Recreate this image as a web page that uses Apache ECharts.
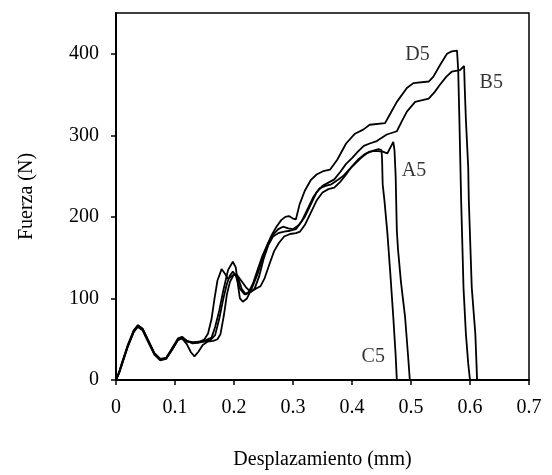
<!DOCTYPE html>
<html>
<head>
<meta charset="utf-8">
<title>Fuerza - Desplazamiento</title>
<script src="https://cdn.jsdelivr.net/npm/echarts@6/dist/echarts.min.js"></script>
<style>
  html, body { margin: 0; padding: 0; background: #fff; }
  #main { width: 552px; height: 475px; }
</style>
</head>
<body>
<div id="main"></div>
<script>
// curvas: [desplazamiento mm, fuerza N]
var serieA5 = [[0,0],[0.005,8],[0.01,19],[0.02,41],[0.03,59],[0.037,65],[0.045,61],[0.055,46],[0.065,31],[0.075,24],[0.085,26],[0.095,37],[0.105,49],[0.112,51],[0.12,44],[0.127,34],[0.133,29],[0.14,35],[0.147,43],[0.155,47],[0.165,48],[0.172,50],[0.177,56],[0.183,80],[0.188,105],[0.193,120],[0.2,130],[0.207,125],[0.213,112],[0.22,105],[0.228,108],[0.237,112],[0.245,115],[0.252,125],[0.26,142],[0.268,158],[0.276,168],[0.285,176],[0.295,179],[0.305,180],[0.312,182],[0.32,190],[0.33,205],[0.34,220],[0.35,230],[0.36,234],[0.37,236],[0.38,243],[0.39,252],[0.4,262],[0.41,270],[0.42,276],[0.43,280],[0.44,281],[0.452,280],[0.46,278],[0.465,285],[0.47,292],[0.472,282],[0.474,250],[0.476,183],[0.478,160],[0.483,120],[0.49,77],[0.495,30],[0.498,0]];
var serieB5 = [[0,0],[0.005,8],[0.01,19],[0.02,41],[0.03,60],[0.037,67],[0.045,63],[0.055,48],[0.065,33],[0.075,26],[0.085,26],[0.095,37],[0.105,49],[0.112,51],[0.12,47],[0.13,46],[0.14,47],[0.15,48],[0.162,52],[0.168,65],[0.175,85],[0.182,110],[0.19,135],[0.198,145],[0.203,138],[0.207,115],[0.21,100],[0.215,96],[0.222,100],[0.23,112],[0.24,130],[0.25,152],[0.258,168],[0.266,178],[0.275,185],[0.283,188],[0.292,186],[0.3,185],[0.31,190],[0.32,200],[0.33,215],[0.34,230],[0.35,238],[0.36,242],[0.37,246],[0.38,255],[0.39,265],[0.4,272],[0.41,280],[0.42,287],[0.43,290],[0.442,293],[0.459,301],[0.476,305],[0.485,318],[0.493,329],[0.507,341],[0.53,345],[0.54,353],[0.549,362],[0.56,372],[0.569,378],[0.583,380],[0.59,385],[0.591,360],[0.593,320],[0.597,260],[0.598,220],[0.603,113],[0.609,57],[0.611,20],[0.612,0]];
var serieC5 = [[0,0],[0.005,9],[0.01,20],[0.02,42],[0.03,59],[0.037,66],[0.045,62],[0.055,47],[0.065,32],[0.075,25],[0.085,27],[0.095,38],[0.105,50],[0.112,52],[0.12,48],[0.13,45],[0.14,46],[0.15,50],[0.156,57],[0.162,75],[0.167,100],[0.172,122],[0.179,136],[0.185,130],[0.19,124],[0.197,128],[0.204,130],[0.212,122],[0.22,114],[0.228,108],[0.235,112],[0.243,128],[0.25,148],[0.258,165],[0.266,176],[0.275,180],[0.285,182],[0.295,183],[0.305,185],[0.315,195],[0.325,210],[0.335,225],[0.345,235],[0.355,238],[0.365,240],[0.375,245],[0.385,250],[0.395,258],[0.405,265],[0.415,272],[0.425,278],[0.435,281],[0.445,283],[0.45,282],[0.451,270],[0.452,240],[0.455,220],[0.46,180],[0.465,130],[0.47,77],[0.474,30],[0.476,0]];
var serieD5 = [[0,0],[0.005,9],[0.01,21],[0.02,43],[0.03,61],[0.037,67],[0.045,63],[0.055,48],[0.065,33],[0.075,26],[0.085,27],[0.095,39],[0.105,51],[0.112,53],[0.12,48],[0.13,46],[0.14,46],[0.15,47],[0.16,49],[0.168,55],[0.175,75],[0.182,100],[0.188,118],[0.193,128],[0.198,133],[0.203,128],[0.21,112],[0.218,105],[0.225,108],[0.232,118],[0.24,135],[0.248,152],[0.256,165],[0.264,178],[0.272,188],[0.28,196],[0.287,200],[0.293,201],[0.3,198],[0.305,197],[0.311,215],[0.32,232],[0.33,245],[0.34,252],[0.351,256],[0.363,258],[0.375,270],[0.39,290],[0.405,302],[0.419,307],[0.43,313],[0.456,315],[0.466,328],[0.476,341],[0.493,358],[0.504,364],[0.53,366],[0.538,372],[0.549,386],[0.561,400],[0.569,403],[0.578,404],[0.58,380],[0.582,320],[0.585,220],[0.589,113],[0.593,57],[0.597,20],[0.6,0]];

// etiquetas de las probetas
var etiquetas = ['D5', 'B5', 'A5', 'C5'];
var etiquetaX = [0.511, 0.636, 0.505, 0.436];
var etiquetaY = [399, 364, 257, 28];

var ticksY = [0, 100, 200, 300, 400];

var fuente = 'Liberation Serif, Times New Roman, serif';

var myChart = echarts.init(document.getElementById('main'), null, {renderer: 'canvas'});

var puntosEtiqueta = [];
for (var i = 0; i < etiquetas.length; i++) {
  puntosEtiqueta.push({name: etiquetas[i], value: [etiquetaX[i], etiquetaY[i]]});
}

function curva (nombre, datos) {
  return {
    name: nombre,
    type: 'line',
    data: datos,
    showSymbol: false,
    symbol: 'none',
    lineStyle: { color: '#000', width: 1.8 },
    animation: false
  };
}

var option = {
  backgroundColor: '#fff',
  animation: false,
  grid: {
    left: 116,
    right: 23,
    top: 13,
    bottom: 95,
    show: true,
    borderColor: '#000',
    borderWidth: 1.5
  },
  xAxis: {
    type: 'value',
    min: 0,
    max: 0.7,
    interval: 0.1,
    name: 'Desplazamiento (mm)',
    nameLocation: 'middle',
    nameGap: 70,
    nameTextStyle: { color: '#000', fontFamily: fuente, fontSize: 20 },
    splitLine: { show: false },
    axisLine: { lineStyle: { color: '#000', width: 2 } },
    axisTick: { inside: false, length: 5, lineStyle: { color: '#000', width: 1.5 } },
    axisLabel: { color: '#000', fontFamily: fuente, fontSize: 20, margin: 18 }
  },
  yAxis: {
    type: 'value',
    min: 0,
    max: 450,
    interval: 100,
    name: 'Fuerza (N)',
    nameLocation: 'middle',
    nameGap: 79,
    nameTextStyle: { color: '#000', fontFamily: fuente, fontSize: 20 },
    splitLine: { show: false },
    axisLine: { lineStyle: { color: '#000', width: 2 } },
    axisTick: { inside: false, length: 5, customValues: ticksY, lineStyle: { color: '#000', width: 1.5 } },
    axisLabel: { color: '#000', fontFamily: fuente, fontSize: 20, margin: 17, customValues: ticksY }
  },
  series: [
    curva('A5', serieA5),
    curva('B5', serieB5),
    curva('C5', serieC5),
    curva('D5', serieD5),
    {
      name: 'etiquetas',
      type: 'scatter',
      data: puntosEtiqueta,
      symbolSize: 0,
      silent: true,
      label: {
        show: true,
        position: 'inside',
        formatter: '{b}',
        color: '#000',
        fontFamily: fuente,
        fontSize: 20
      }
    }
  ]
};

myChart.setOption(option);
window.addEventListener('resize', function(){
  myChart.resize();
});
</script>
</body>
</html>
